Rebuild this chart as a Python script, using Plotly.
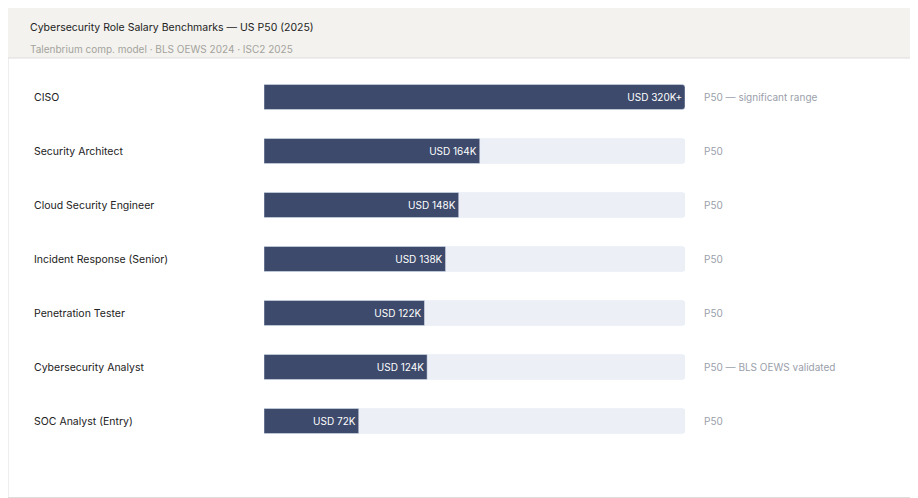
import plotly.graph_objects as go

roles = ["CISO", "Security Architect", "Cloud Security Engineer", "Incident Response (Senior)",
         "Penetration Tester", "Cybersecurity Analyst", "SOC Analyst (Entry)"]
salary_k = [320, 164, 148, 138, 122, 124, 72]
bar_labels = ["USD 320K+", "USD 164K", "USD 148K", "USD 138K", "USD 122K", "USD 124K", "USD 72K"]
notes = ["P50 — significant range", "P50", "P50", "P50", "P50", "P50 — BLS OEWS validated", "P50"]
scale_max = 320

# page is rendered with an 8px body offset, so work in shifted pixel coords
OFF = 8
W, H = 918 - OFF, 498 - OFF
font = "Inter, Roboto, sans-serif"
idx = list(range(len(roles)))
bw = 25 / 54


def px(x):
    return (x - OFF) / W


def py(y):
    return 1 - (y - OFF) / H


fig = go.Figure()
fig.add_trace(go.Bar(y=idx, x=[scale_max] * len(roles), orientation="h", width=bw,
                     marker=dict(color="#eceff6", cornerradius=3), hoverinfo="skip"))
fig.add_trace(go.Bar(y=idx, x=salary_k, orientation="h", width=bw,
                     marker=dict(color="#3d4a6b", cornerradius=3),
                     text=bar_labels, textposition="inside", insidetextanchor="end",
                     textfont=dict(color="white", size=10, family=font)))

for i, (r, n) in enumerate(zip(roles, notes)):
    fig.add_annotation(x=px(32), xref="paper", y=i, yref="y", text=r, showarrow=False,
                       xanchor="left", font=dict(size=10.5, color="#222", family=font))
    fig.add_annotation(x=px(702), xref="paper", y=i, yref="y", text=n, showarrow=False,
                       xanchor="left", font=dict(size=10, color="#9aa0aa", family=font))

fig.add_shape(type="rect", xref="paper", yref="paper", x0=0, x1=1, y0=py(58), y1=1,
              fillcolor="#f3f2ee", line_width=0, layer="below")
fig.add_shape(type="rect", xref="paper", yref="paper", x0=0, x1=1 - 0.5 / W, y0=0.5 / H, y1=py(58),
              fillcolor="rgba(0,0,0,0)", line=dict(color="#dddddd", width=1))
fig.add_annotation(x=px(28), xref="paper", y=py(19), yref="paper", text="Cybersecurity Role Salary Benchmarks — US P50 (2025)",
                   showarrow=False, xanchor="left", font=dict(size=10.5, color="#222", family=font))
fig.add_annotation(x=px(28), xref="paper", y=py(41), yref="paper", text="Talenbrium comp. model · BLS OEWS 2024 · ISC2 2025",
                   showarrow=False, xanchor="left", font=dict(size=10, color="#a3a39d", family=font))

fig.update_layout(
    width=W, height=H, margin=dict(l=0, r=0, t=0, b=0),
    paper_bgcolor="white", plot_bgcolor="rgba(0,0,0,0)",
    barmode="overlay", showlegend=False,
    xaxis=dict(domain=[px(264), px(685)], range=[0, scale_max], visible=False),
    yaxis=dict(range=[(498 - 97) / 54, -(97 - OFF) / 54], visible=False),
)
fig.write_html("out.html")
